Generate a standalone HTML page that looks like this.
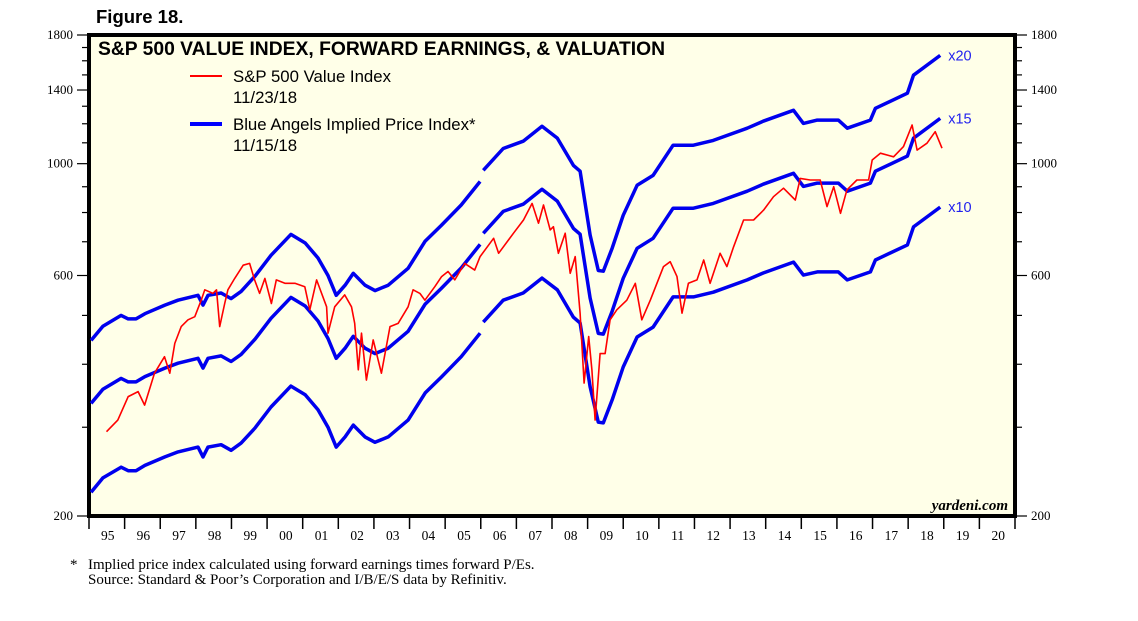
<!DOCTYPE html>
<html><head><meta charset="utf-8"><style>
body{margin:0;background:#fff;}
svg{display:block;}
</style></head><body>
<svg id="chart" width="1138" height="621" xmlns="http://www.w3.org/2000/svg">
<text x="96" y="23" font-family="Liberation Sans, sans-serif" font-weight="bold" font-size="18.5">Figure 18.</text>
<rect x="89" y="35" width="926" height="481" fill="#ffffe8" stroke="#000" stroke-width="4"/>
<g id="marks"></g>
<text x="98" y="55" font-family="Liberation Sans, sans-serif" font-weight="bold" font-size="19.3">S&amp;P 500 VALUE INDEX, FORWARD EARNINGS, &amp; VALUATION</text>
<g>
<line x1="190" y1="76" x2="222" y2="76" stroke="#f00" stroke-width="2"/>
<text x="233" y="82" font-family="Liberation Sans, sans-serif" font-size="16.8">S&amp;P 500 Value Index</text>
<text x="233" y="103" font-family="Liberation Sans, sans-serif" font-size="16.8">11/23/18</text>
<line x1="190" y1="124" x2="222" y2="124" stroke="#00f" stroke-width="4"/>
<text x="233" y="130" font-family="Liberation Sans, sans-serif" font-size="16.8">Blue Angels Implied Price Index*</text>
<text x="233" y="151" font-family="Liberation Sans, sans-serif" font-size="16.8">11/15/18</text>
</g>
<text x="1008" y="510" text-anchor="end" font-family="Liberation Serif, serif" font-style="italic" font-weight="bold" font-size="15">yardeni.com</text>
<text x="70" y="569" font-family="Liberation Serif, serif" font-size="15">*</text>
<text x="88" y="569" font-family="Liberation Serif, serif" font-size="15">Implied price index calculated using forward earnings times forward P/Es.</text>
<text x="88" y="584" font-family="Liberation Serif, serif" font-size="15">Source: Standard &amp; Poor’s Corporation and I/B/E/S data by Refinitiv.</text>
</svg>
<script>
const yTicks=[200,300,400,500,600,700,800,900,1000,1100,1200,1300,1400,1500,1600,1700,1800];
const yLabels=[200,600,1000,1400,1800];
const years=['95','96','97','98','99','00','01','02','03','04','05','06','07','08','09','10','11','12','13','14','15','16','17','18','19','20'];
const multiples=[10,15,20];
const earnDates=[1995.06,1995.39,1995.90,1996.10,1996.32,1996.57,1997.13,1997.50,1998.06,1998.20,1998.34,1998.71,1998.99,1999.27,1999.66,2000.11,2000.67,2001.07,2001.43,2001.71,2001.94,2002.19,2002.42,2002.75,2003.03,2003.40,2003.96,2004.44,2004.89,2005.45,2005.98,2006.07,2006.63,2007.19,2007.72,2008.15,2008.60,2008.79,2009.07,2009.30,2009.44,2009.69,2010.00,2010.39,2010.84,2011.40,2011.97,2012.53,2013.48,2013.93,2014.78,2015.06,2015.45,2016.04,2016.29,2016.94,2017.08,2017.98,2018.15,2018.90];
const earnings=[22.3,23.8,25.0,24.6,24.6,25.2,26.2,26.8,27.4,26.2,27.4,27.7,27.0,27.9,29.9,32.9,36.2,34.8,32.5,30.0,27.4,28.7,30.3,28.7,28.0,28.7,31.0,35.1,37.7,41.4,46.1,48.5,53.6,55.4,59.3,56.2,49.6,48.3,36.1,30.7,30.6,34.0,39.5,45.3,47.4,54.4,54.4,55.6,58.8,60.7,63.8,60.1,61.0,61.0,58.8,61.0,64.4,69.0,74.9,82.0];
const priceDates=[1995.49,1995.81,1996.10,1996.38,1996.56,1996.84,1997.12,1997.27,1997.41,1997.59,1997.78,1997.97,1998.15,1998.25,1998.48,1998.58,1998.67,1998.81,1998.90,1999.09,1999.33,1999.51,1999.65,1999.79,1999.94,2000.12,2000.26,2000.50,2000.78,2001.06,2001.20,2001.39,2001.67,2001.71,2001.90,2002.18,2002.37,2002.46,2002.56,2002.65,2002.79,2002.98,2003.21,2003.45,2003.68,2003.96,2004.10,2004.29,2004.43,2004.71,2004.90,2005.08,2005.27,2005.55,2005.83,2005.98,2006.36,2006.50,2006.92,2007.20,2007.44,2007.62,2007.76,2007.95,2008.04,2008.18,2008.37,2008.51,2008.65,2008.79,2008.90,2009.03,2009.12,2009.21,2009.35,2009.49,2009.63,2009.82,2010.10,2010.34,2010.52,2010.76,2011.13,2011.32,2011.51,2011.65,2011.83,2012.07,2012.26,2012.44,2012.72,2012.91,2013.10,2013.38,2013.66,2013.94,2014.22,2014.50,2014.83,2014.97,2015.25,2015.53,2015.72,2015.91,2016.10,2016.28,2016.56,2016.89,2016.99,2017.22,2017.59,2017.87,2018.11,2018.25,2018.53,2018.76,2018.95];
const prices=[294,310,345,353,332,384,414,384,440,475,490,497,536,562,553,562,475,528,562,592,629,634,588,553,592,528,588,579,579,570,513,588,520,461,520,549,520,482,390,461,372,447,384,475,482,520,562,553,536,570,597,611,588,634,615,654,711,664,728,773,834,762,828,739,750,664,728,606,654,505,367,454,390,310,420,420,490,513,536,579,490,536,625,639,597,505,579,588,644,579,664,625,684,773,773,809,860,894,847,935,928,928,822,900,797,887,928,928,1017,1049,1032,1081,1193,1064,1098,1157,1073];

const NS='http://www.w3.org/2000/svg';
const svg=document.getElementById('chart');
const marks=document.getElementById('marks');
const L=89,R=1015,T=35,B=516;
const xS=t=>L+(t-1995)/26*(R-L);
const yS=v=>B-Math.log(v/200)/Math.log(9)*(B-T);
function mk(tag,attrs,parent){const e=document.createElementNS(NS,tag);for(const k in attrs)e.setAttribute(k,attrs[k]);(parent||svg).appendChild(e);return e;}

yTicks.forEach(v=>{
  const y=yS(v);const major=yLabels.includes(v);
  const a=mk('line',{x1:major?77:82,x2:88,y1:y,y2:y,stroke:'#000','stroke-width':1.2});
  
  
  const b=mk('line',{x1:1016,x2:major?1027:1022,y1:y,y2:y,stroke:'#000','stroke-width':1.2});
  
  
  if(major){
    const t1=mk('text',{x:73,y:y+4,'text-anchor':'end','font-family':'Liberation Serif, serif','font-size':13});
    t1.textContent=v;
    
    
    const t2=mk('text',{x:1031,y:y+4,'font-family':'Liberation Serif, serif','font-size':13});
    t2.textContent=v;
    
    
  }
});
for(let i=0;i<=years.length;i++){
  const x=xS(1995+i);
  const tk=mk('line',{x1:x,x2:x,y1:518,y2:529,stroke:'#000','stroke-width':1.5});
  
  
  if(i<years.length){
    const tx=mk('text',{x:xS(1995+i+0.5)+1,y:540,'text-anchor':'middle','font-family':'Liberation Serif, serif','font-size':13.5});
    tx.textContent=years[i];
    
    
  }
}
const bandNames={10:'band-x10',15:'band-x15',20:'band-x20'};
multiples.forEach(m=>{
  let d='';
  for(let i=0;i<earnDates.length;i++){
    const gap=i>0&&earnDates[i-1]<2006.02&&earnDates[i]>=2006.02;
    d+=(i===0||gap?'M':'L')+xS(earnDates[i]).toFixed(1)+','+yS(earnings[i]*m).toFixed(1);
  }
  const p=mk('path',{d:d,fill:'none',stroke:'#0000ee','stroke-width':3.5,'stroke-linejoin':'round'},marks);
  
  
  const n=earnDates.length-1;
  const lb=mk('text',{x:xS(earnDates[n])+8,y:yS(earnings[n]*m)+5,fill:'#2222ee','font-family':'Liberation Sans, sans-serif','font-size':14.5});
  lb.textContent='x'+m;
  
  
});
let d='';
priceDates.forEach((t,i)=>{d+=(i?'L':'M')+xS(t).toFixed(1)+','+yS(prices[i]).toFixed(1);});
const rp=mk('path',{d:d,fill:'none',stroke:'#ff0000','stroke-width':1.6,'stroke-linejoin':'round'},marks);


</script>
</body></html>
